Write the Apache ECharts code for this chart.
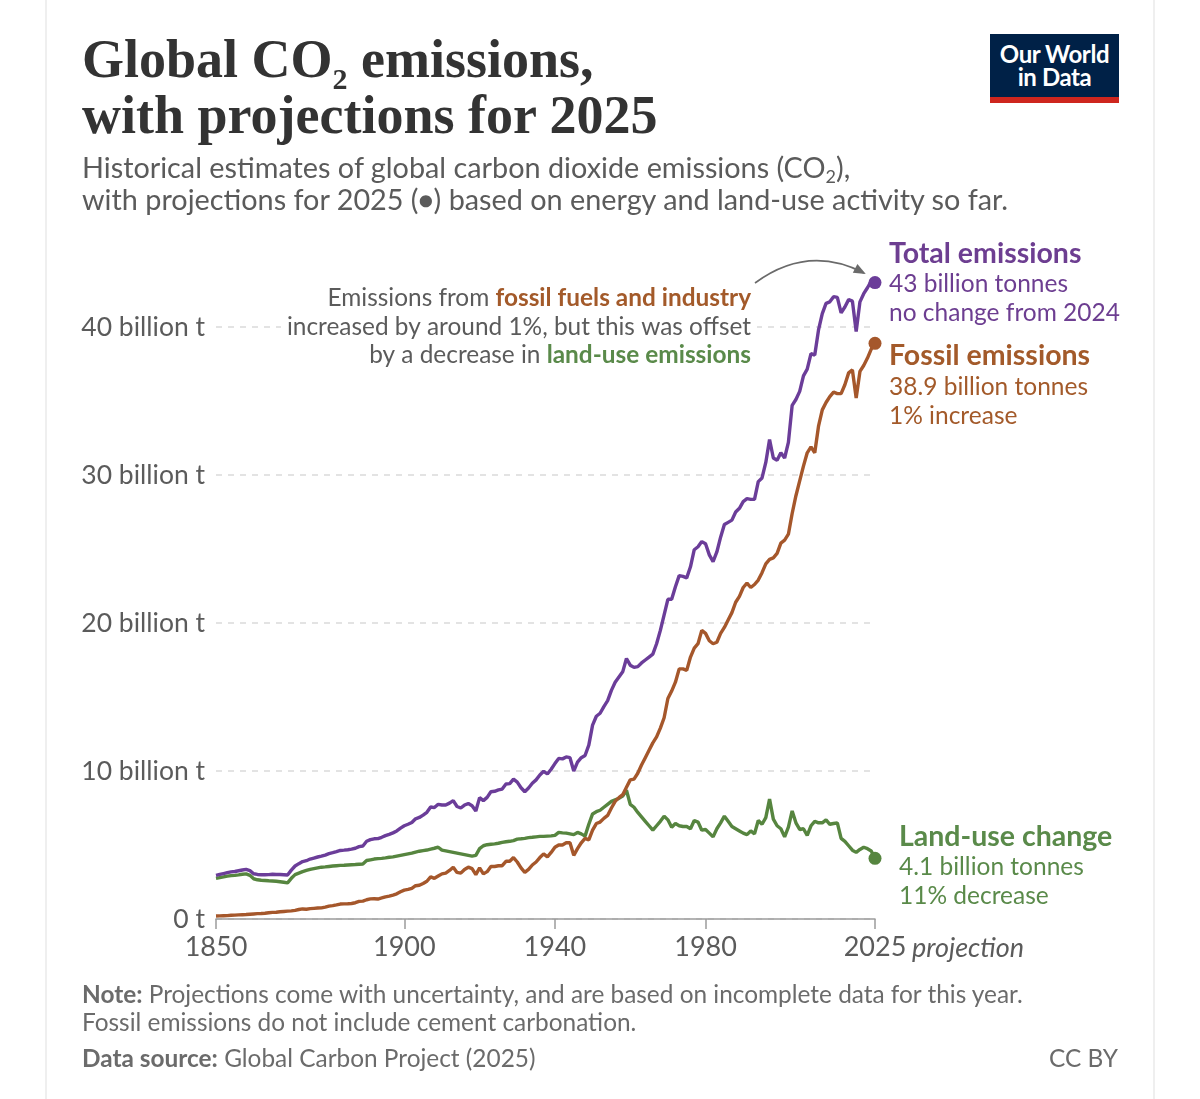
<!DOCTYPE html>
<html>
<head>
<meta charset="utf-8">
<script src="https://cdn.jsdelivr.net/npm/echarts@6/dist/echarts.min.js"></script>
<style>
  html, body { margin:0; padding:0; background:#fff; }
  #wrap { position:relative; width:1200px; height:1099px; overflow:hidden; }
  #chart { position:absolute; left:0; top:0; width:1200px; height:1099px; }
  .card { position:absolute; left:45px; top:0; width:1106px; height:1099px; border-left:2px solid #efefef; border-right:2px solid #efefef; }
  .txt { position:absolute; white-space:nowrap; }
  #title { left:82px; top:31px; font-family:'Liberation Serif', serif; font-weight:bold; font-size:54px; line-height:56px; color:#333; }
  #title .sub { font-size:30px; vertical-align:-12px; line-height:0; }
  #subtitle { left:82px; top:151px; font-family:Lato, sans-serif; font-size:28.8px; line-height:32px; color:#5b5b5b; }
  #logo { left:990px; top:34px; width:129px; height:55px; padding-top:8px; background:#002147; border-bottom:6px solid #ce261e; color:#fff; font-family:Lato, sans-serif; font-weight:bold; font-size:24px; line-height:23px; text-align:center; letter-spacing:-0.4px; }
  #note { left:82px; top:980px; font-family:Lato, sans-serif; font-size:24.4px; line-height:28px; color:#6b6b6b; }
  #source { left:82px; top:1044px; font-family:Lato, sans-serif; font-size:24.4px; line-height:28px; color:#6b6b6b; }
  #cc { right:82px; top:1044px; font-family:Lato, sans-serif; font-size:24.4px; line-height:28px; color:#6b6b6b; }
</style>
</head>
<body>
<div id="wrap">
  <div class="card"></div>
  <div id="chart"></div>
  <div class="txt" id="title">Global CO<span class="sub">2</span> emissions,<br>with projections for 2025</div>
  <div class="txt" id="subtitle">Historical estimates of global carbon dioxide emissions (CO<span style="font-size:18px;vertical-align:-5px;line-height:0">2</span>),<br>with projections for 2025 (<span style="font-size:25px;vertical-align:1px;line-height:0">●</span>) based on energy and land-use activity so far.</div>
  <div class="txt" id="logo">Our World<br>in Data</div>
  <div class="txt" id="note"><b>Note:</b> Projections come with uncertainty, and are based on incomplete data for this year.<br>Fossil emissions do not include cement carbonation.</div>
  <div class="txt" id="source"><b>Data source:</b> Global Carbon Project (2025)</div>
  <div class="txt" id="cc">CC BY</div>
</div>
<script>
// ---- Data (billion tonnes CO2), one value per year starting 1850 ----
const startYear = 1850;

const fossil = [
  0.20,0.21,0.22,0.23,0.25,0.26,0.28,0.29,0.30,0.32,
  0.34,0.36,0.37,0.39,0.42,0.45,0.46,0.49,0.51,0.53,
  0.55,0.58,0.64,0.68,0.66,0.70,0.72,0.74,0.75,0.80,
  0.87,0.90,0.95,1.01,1.02,1.03,1.05,1.10,1.19,1.21,
  1.30,1.36,1.37,1.35,1.42,1.50,1.55,1.62,1.70,1.84,
  1.95,2.00,2.07,2.25,2.28,2.40,2.55,2.85,2.75,2.90,
  3.05,3.10,3.28,3.50,3.15,3.10,3.35,3.50,3.40,3.00,
  3.45,3.05,3.20,3.55,3.55,3.60,3.60,3.90,3.90,4.15,
  3.85,3.45,3.15,3.35,3.65,3.85,4.15,4.40,4.20,4.50,
  4.85,5.00,5.00,5.15,5.15,4.30,4.75,5.15,5.45,5.35,
  6.00,6.45,6.55,6.80,7.00,7.50,7.95,8.20,8.40,8.90,
  9.40,9.45,9.85,10.40,10.90,11.40,11.90,12.30,12.90,13.60,
  14.90,15.40,16.00,16.90,16.90,16.80,17.70,18.30,18.60,19.50,
  19.30,18.80,18.60,18.70,19.30,19.70,20.20,20.70,21.40,21.80,
  22.40,22.70,22.40,22.60,22.90,23.40,24.00,24.30,24.40,24.70,
  25.40,25.60,26.00,27.40,28.60,29.60,30.60,31.50,31.90,31.50,
  33.30,34.40,34.90,35.30,35.60,35.50,35.50,36.10,36.90,37.10,
  35.20,37.00,37.40,37.90,38.50,38.90
];

const landUse = [
  2.75,2.80,2.85,2.90,2.93,2.95,2.98,3.02,3.05,2.95,
  2.72,2.65,2.62,2.60,2.58,2.57,2.55,2.52,2.48,2.44,
  2.75,3.00,3.10,3.20,3.28,3.35,3.40,3.45,3.50,3.52,
  3.55,3.58,3.60,3.62,3.63,3.65,3.67,3.68,3.70,3.72,
  3.95,4.00,4.05,4.08,4.10,4.13,4.17,4.20,4.25,4.30,
  4.35,4.40,4.45,4.52,4.58,4.62,4.66,4.72,4.78,4.85,
  4.65,4.60,4.55,4.50,4.45,4.40,4.35,4.30,4.25,4.30,
  4.75,4.95,5.02,5.05,5.08,5.12,5.18,5.22,5.25,5.30,
  5.40,5.42,5.45,5.50,5.52,5.55,5.58,5.58,5.60,5.62,
  5.65,5.85,5.82,5.80,5.75,5.70,5.85,5.75,5.60,6.40,
  7.10,7.25,7.35,7.55,7.75,7.95,8.05,8.15,8.30,8.70,
  7.75,7.55,7.20,6.90,6.60,6.30,6.00,6.30,6.60,6.95,
  6.70,6.20,6.45,6.30,6.25,6.25,6.10,6.65,6.55,6.00,
  6.05,5.80,5.55,6.10,6.50,6.95,6.60,6.25,6.10,5.95,
  5.80,5.70,5.95,5.75,6.65,6.40,6.85,8.10,6.75,6.30,
  6.10,5.55,6.20,7.30,6.50,6.05,6.10,5.65,6.30,6.60,
  6.50,6.50,6.70,6.40,6.45,6.50,5.45,5.25,4.95,4.65,
  4.50,4.70,4.85,4.75,4.60,4.10
];

const total = [
  2.95,3.01,3.07,3.13,3.18,3.21,3.26,3.31,3.35,3.27,
  3.06,3.01,2.99,2.99,3.00,3.02,3.01,3.01,2.99,2.97,
  3.30,3.58,3.74,3.88,3.94,4.05,4.12,4.19,4.25,4.32,
  4.42,4.48,4.55,4.63,4.65,4.68,4.72,4.78,4.89,4.93,
  5.25,5.36,5.42,5.43,5.52,5.63,5.72,5.82,5.95,6.14,
  6.30,6.40,6.52,6.77,6.86,7.02,7.21,7.57,7.53,7.75,
  7.70,7.70,7.83,8.00,7.60,7.50,7.70,7.80,7.65,7.30,
  8.20,8.00,8.22,8.60,8.63,8.72,8.78,9.12,9.15,9.45,
  9.25,8.87,8.60,8.85,9.17,9.40,9.73,9.98,9.80,10.12,
  10.50,10.85,10.82,10.95,10.90,10.00,10.60,10.90,11.05,11.75,
  13.10,13.70,13.90,14.35,14.75,15.45,16.00,16.35,16.70,17.60,
  17.15,17.00,17.05,17.30,17.50,17.70,17.90,18.60,19.50,20.55,
  21.60,21.60,22.45,23.20,23.15,23.05,23.80,24.95,25.15,25.50,
  25.35,24.60,24.15,24.80,25.80,26.65,26.80,26.95,27.50,27.75,
  28.20,28.40,28.35,28.35,29.55,29.80,30.85,32.40,31.15,31.00,
  31.50,31.15,32.20,34.70,35.10,35.65,36.70,37.15,38.20,38.10,
  39.80,40.90,41.60,41.70,42.05,42.00,40.95,41.35,41.85,41.75,
  39.70,41.70,42.25,42.65,43.10,43.00
];

const xTicks = [1850, 1900, 1940, 1980, 2025];
const yTickStep = 10;

// ---- Styling ----
const C_TOTAL = '#6b3d99', C_FOSSIL = '#a5572b', C_LAND = '#56853f';
const T_TOTAL = '#6d3e91', T_FOSSIL = '#a35a2a', T_LAND = '#5a8a4a';
const GREY = '#5b5b5b';
const FONT = 'Lato, sans-serif';

const years = fossil.map((_, i) => startYear + i);
const last = years.length - 1;
const pairs = arr => arr.map((v, i) => [years[i], v]);

const chart = echarts.init(document.getElementById('chart'), null, { renderer: 'canvas', width: 1200, height: 1099 });

function labelRich(color) {
  return {
    n: { fontFamily: FONT, fontWeight: 'bold', fontSize: 28.5, lineHeight: 32, color: color },
    v: { fontFamily: FONT, fontSize: 24.5, lineHeight: 29, color: color }
  };
}

const option = {
  animation: false,
  backgroundColor: 'transparent',
  grid: { left: 216, right: 325, top: 327, bottom: 180, containLabel: false, outerBoundsMode: 'none' },
  xAxis: {
    type: 'value', min: xTicks[0], max: xTicks[xTicks.length - 1],
    splitLine: { show: false },
    axisLine: { show: true, lineStyle: { color: '#9c9c9c', width: 1.5 } },
    axisTick: { show: true, length: 10, customValues: xTicks, lineStyle: { color: '#9c9c9c', width: 1.5 } },
    axisLabel: { customValues: xTicks, fontFamily: FONT, fontSize: 27, color: GREY, margin: 15, formatter: v => String(v) }
  },
  yAxis: {
    type: 'value', min: 0, max: 40, interval: yTickStep,
    axisLine: { show: false }, axisTick: { show: false },
    splitLine: { show: true, lineStyle: { color: '#dadada', width: 1.5, type: [6, 6] } },
    axisLabel: { fontFamily: FONT, fontSize: 26.5, color: GREY, margin: 11, formatter: v => v === 0 ? '0 t' : v + ' billion t' }
  },
  series: [
    {
      type: 'line', name: 'Land-use change', data: pairs(landUse), symbol: 'none', showSymbol: false, clip: false, z: 2,
      lineStyle: { width: 3.4, color: C_LAND }, itemStyle: { color: C_LAND }, emphasis: { disabled: true },
      endLabel: { show: true, distance: 0, offset: [24, 7], formatter: () => '{n|Land-use change}\n{v|' + landUse[last].toFixed(1) + ' billion tonnes}\n{v|11% decrease}', rich: labelRich(T_LAND) }
    },
    {
      type: 'line', name: 'Fossil emissions', data: pairs(fossil), symbol: 'none', showSymbol: false, clip: false, z: 3,
      lineStyle: { width: 3.4, color: C_FOSSIL }, itemStyle: { color: C_FOSSIL }, emphasis: { disabled: true },
      endLabel: { show: true, distance: 0, offset: [14, 42], formatter: () => '{n|Fossil emissions}\n{v|' + fossil[last].toFixed(1) + ' billion tonnes}\n{v|1% increase}', rich: labelRich(T_FOSSIL) }
    },
    {
      type: 'line', name: 'Total emissions', data: pairs(total), symbol: 'none', showSymbol: false, clip: false, z: 4,
      lineStyle: { width: 3.4, color: C_TOTAL }, itemStyle: { color: C_TOTAL }, emphasis: { disabled: true },
      endLabel: { show: true, distance: 0, offset: [14, 0], formatter: () => '{n|Total emissions}\n{v|' + Math.round(total[last]) + ' billion tonnes}\n{v|no change from 2024}', rich: labelRich(T_TOTAL) }
    },
    { type: 'scatter', data: [[years[last], landUse[last]]], symbolSize: 13, clip: false, z: 5, silent: true, itemStyle: { color: C_LAND, opacity: 1 } },
    { type: 'scatter', data: [[years[last], fossil[last]]], symbolSize: 13, clip: false, z: 5, silent: true, itemStyle: { color: C_FOSSIL, opacity: 1 } },
    { type: 'scatter', data: [[years[last], total[last]]], symbolSize: 13, clip: false, z: 5, silent: true, itemStyle: { color: C_TOTAL, opacity: 1 } }
  ]
};
chart.setOption(option);

// annotations positioned from the axis scale
const pEnd = chart.convertToPixel({ gridIndex: 0 }, [years[last], 0]);
const x0 = pEnd[0], yBase = pEnd[1];

// arrow geometry
const a = { x1: 755, y1: 283, cx: 808, cy: 244, x2: 864, y2: 273 };
const dx = a.x2 - a.cx, dy = a.y2 - a.cy, len = Math.sqrt(dx * dx + dy * dy);
const ux = dx / len, uy = dy / len;
const head = [[a.x2 + ux * 2, a.y2 + uy * 2], [a.x2 - ux * 10 - uy * 5, a.y2 - uy * 10 + ux * 5], [a.x2 - ux * 10 + uy * 5, a.y2 - uy * 10 - ux * 5]];

chart.setOption({
  graphic: [
    {
      type: 'text', x: x0 + 37, y: yBase + 29, silent: true,
      style: { text: 'projection', fontFamily: FONT, fontStyle: 'italic', fontSize: 27, fill: GREY, align: 'left', verticalAlign: 'middle' }
    },
    {
      type: 'text', x: 757, y: 284, silent: true, z: 10,
      style: {
        text: '{g|Emissions from }{o|fossil fuels and industry}\n{g|increased by around 1%, but this was offset}\n{g|by a decrease in }{l|land-use emissions}',
        align: 'right', verticalAlign: 'top', backgroundColor: '#fff', padding: [0, 6, 0, 6],
        rich: {
          g: { fontFamily: FONT, fontSize: 24.4, lineHeight: 28.5, fill: GREY },
          o: { fontFamily: FONT, fontSize: 24.4, lineHeight: 28.5, fill: T_FOSSIL, fontWeight: 'bold' },
          l: { fontFamily: FONT, fontSize: 24.4, lineHeight: 28.5, fill: T_LAND, fontWeight: 'bold' }
        }
      }
    },
    {
      type: 'bezierCurve', silent: true, z: 10,
      shape: { x1: a.x1, y1: a.y1, cpx1: a.cx, cpy1: a.cy, x2: a.x2, y2: a.y2 },
      style: { stroke: '#6a6a6a', lineWidth: 1.6, fill: null }
    },
    {
      type: 'polygon', silent: true, z: 10,
      shape: { points: head },
      style: { fill: '#6a6a6a' }
    }
  ]
});
</script>
</body>
</html>
